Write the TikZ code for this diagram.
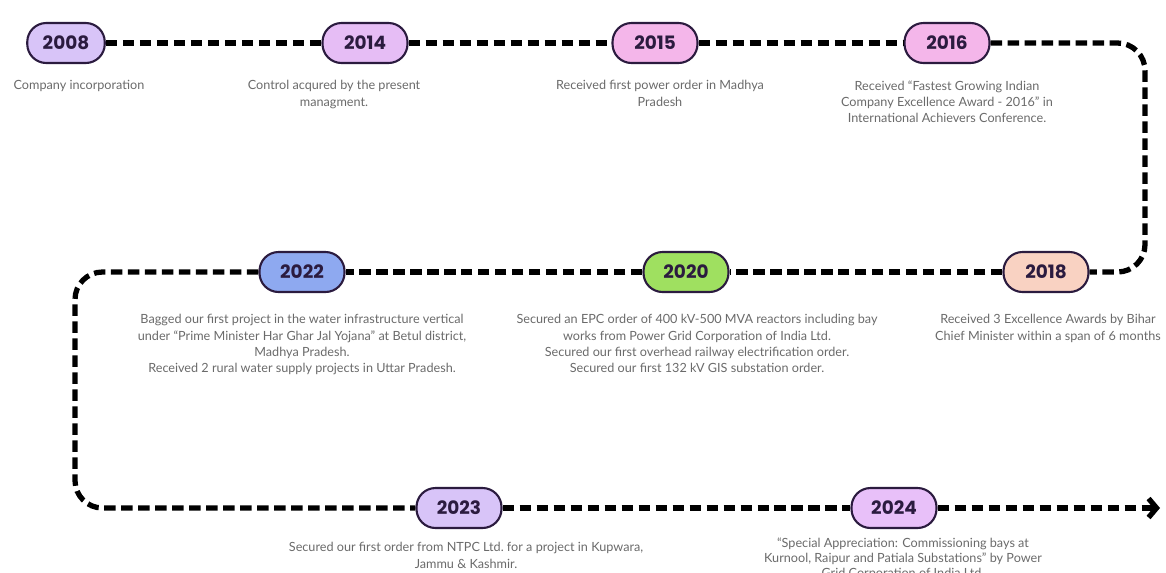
\documentclass[tikz,border=0pt]{standalone}
\usepackage{fontspec}
\setmainfont{Lato}
\newfontfamily\yearfont{Poppins}
\usepackage{tikz}
\usetikzlibrary{arrows.meta, positioning}

\definecolor{inkdark}{HTML}{2B1B3F}
\definecolor{descgray}{HTML}{6A6A6A}
\definecolor{lav}{HTML}{D8C4F8}
\definecolor{lavpink}{HTML}{E6BDF5}
\definecolor{pink}{HTML}{F4B6EA}
\definecolor{peach}{HTML}{F9D2C2}
\definecolor{lime}{HTML}{9FE060}
\definecolor{skyblue}{HTML}{8EA9F0}
\definecolor{lilac}{HTML}{E8C0F9}

\begin{document}
\begin{tikzpicture}[x=0.02cm, y=-0.02cm,
    year/.style={draw=inkdark, line width=1.2pt, rounded corners=0.38cm,
        minimum width=1.7cm, minimum height=0.8cm, text=inkdark,
        font=\yearfont\bfseries\fontsize{10.5}{12}\selectfont},
    desc/.style={align=center, inner sep=0pt, text=descgray,
        font=\fontsize{7.2}{9.3}\selectfont},
    timeline/.style={line width=3pt, dash pattern=on 0.23cm off 0.11cm, rounded corners=0.55cm}]
    \useasboundingbox (0,0) rectangle (1166,572);

    % year pills
    \node[year, fill=lav, minimum width=1.55cm] (y2008) at (66,43) {2008};
    \node[year, fill=lavpink] (y2014) at (365,43) {2014};
    \node[year, fill=pink] (y2015) at (655,43) {2015};
    \node[year, fill=pink] (y2016) at (947,43) {2016};
    \node[year, fill=peach] (y2018) at (1046,272) {2018};
    \node[year, fill=lime] (y2020) at (686,272) {2020};
    \node[year, fill=skyblue] (y2022) at (302,272) {2022};
    \node[year, fill=lav] (y2023) at (459,508) {2023};
    \node[year, fill=lilac] (y2024) at (894,508) {2024};

    % descriptions
    \node[desc, below=0.32cm of y2008, xshift=0.26cm] (d2008) {Company incorporation};
    \node[desc, below=0.32cm of y2014, xshift=-0.62cm] (d2014) {Control acqured by the present\\managment.};
    \node[desc, below=0.32cm of y2015, xshift=0.1cm] (d2015) {Received first power order in Madhya\\Pradesh};
    \node[desc, below=0.32cm of y2016] (d2016) {Received ``Fastest Growing Indian\\Company Excellence Award - 2016'' in\\International Achievers Conference.};
    \node[desc, below=0.42cm of y2018, xshift=0.04cm] (d2018) {Received 3 Excellence Awards by Bihar\\Chief Minister within a span of 6 months};
    \node[desc, below=0.42cm of y2020, xshift=0.22cm] (d2020) {Secured an EPC order of 400 kV-500 MVA reactors including bay\\works from Power Grid Corporation of India Ltd.\\Secured our first overhead railway electrification order.\\Secured our first 132 kV GIS substation order.};
    \node[desc, below=0.42cm of y2022] (d2022) {Bagged our first project in the water infrastructure vertical\\under ``Prime Minister Har Ghar Jal Yojana'' at Betul district,\\Madhya Pradesh.\\Received 2 rural water supply projects in Uttar Pradesh.};
    \node[desc, below=0.26cm of y2023, xshift=0.14cm] (d2023) {Secured our first order from NTPC Ltd.\ for a project in Kupwara,\\Jammu \& Kashmir.};
    \node[desc, below=0.16cm of y2024, xshift=0.18cm, font=\fontsize{7.2}{8.6}\selectfont] (d2024) {``Special Appreciation: Commissioning bays at\\Kurnool, Raipur and Patiala Substations'' by Power\\Grid Corporation of India Ltd.};

    % turns of the line
    \coordinate (ne) at (1145,43);
    \coordinate (se) at (1145,272);
    \coordinate (nw) at (75,272);
    \coordinate (sw) at (75,508);
    \coordinate (tip) at (1160,508);

    \draw[timeline] (y2008.east) -- (y2014.west);
    \draw[timeline] (y2014.east) -- (y2015.west);
    \draw[timeline] (y2015.east) -- (y2016.west);
    \draw[timeline] (y2016.east) -- (ne) -- (se) -- (y2018.east);
    \draw[timeline] (y2018.west) -- (y2020.east);
    \draw[timeline] (y2020.west) -- (y2022.east);
    \draw[timeline] (y2022.west) -- (nw) -- (sw) -- (y2023.west);
    \draw[timeline] (y2023.east) -- (y2024.west);
    \draw[timeline, -{Straight Barb[length=0.16cm, width=0.38cm]}] (y2024.east) -- (tip);
\end{tikzpicture}
\end{document}
